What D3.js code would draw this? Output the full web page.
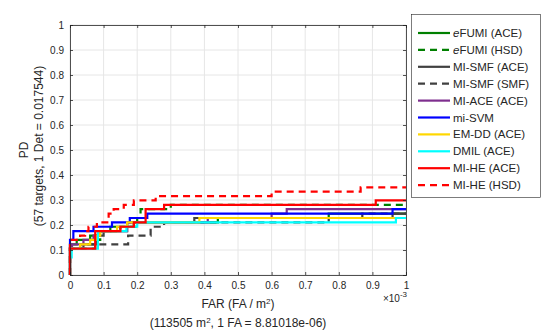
<!DOCTYPE html>
<html><head><meta charset="utf-8">
<script src="https://cdn.jsdelivr.net/npm/d3@7"></script>
<style>body{margin:0;background:#fff}text{font-family:"Liberation Sans",Arial,sans-serif;fill:#262626}</style>
</head><body><svg id="c" width="545" height="332"></svg>
<script>
// FAR in units of 1e-3 FA/m^2, PD as fraction
const seriesNames = ["eFUMI (ACE)","eFUMI (HSD)","MI-SMF (ACE)","MI-SMF (SMF)","MI-ACE (ACE)","mi-SVM","EM-DD (ACE)","DMIL (ACE)","MI-HE (ACE)","MI-HE (HSD)"];
const eFUMI_ACE_far = [0,0.02,0.06,0.085,0.12,0.19,0.44,0.77];
const eFUMI_ACE_pd  = [0.1228,0.1404,0.1579,0.1754,0.1930,0.2105,0.2281,0.2456];
const eFUMI_HSD_far = [0,0.075,0.09,0.15,0.2,0.21,0.3];
const eFUMI_HSD_pd  = [0.1053,0.1404,0.1754,0.1930,0.2281,0.2632,0.2807];
const MISMF_ACE_far = [0,0.04,0.08,0.1,0.17,0.37,0.96];
const MISMF_ACE_pd  = [0.1053,0.1228,0.1579,0.1754,0.2105,0.2281,0.2456];
const MISMF_SMF_far = [0,0.03,0.173,0.24,0.28,0.77,0.87];
const MISMF_SMF_pd  = [0.1053,0.1228,0.1579,0.1930,0.2105,0.2281,0.2456];
const MIACE_far = [0,0.006,0.04,0.07,0.085,0.17,0.41,0.6,0.645];
const MIACE_pd  = [0.1053,0.1228,0.1404,0.1579,0.1754,0.2105,0.2281,0.2456,0.2632];
const miSVM_far = [0,0.01,0.07,0.125,0.178,0.23,0.96];
const miSVM_pd  = [0.1404,0.1754,0.1930,0.2105,0.2281,0.2456,0.2632];
const EMDD_far = [0,0.03,0.06,0.08,0.09,0.14,0.17,0.385];
const EMDD_pd  = [0.1053,0.1228,0.1404,0.1579,0.1754,0.1930,0.2105,0.2281];
const DMIL_far = [0,0.005,0.083,0.168,0.2,0.97];
const DMIL_pd  = [0.0702,0.1053,0.1754,0.1930,0.2105,0.2281];
const MIHE_ACE_far = [0,0.075,0.15,0.19,0.225,0.28,0.91];
const MIHE_ACE_pd  = [0.1053,0.1754,0.1930,0.2105,0.2632,0.2807,0.2982];
const MIHE_HSD_far = [0,0.03,0.045,0.055,0.08,0.115,0.13,0.16,0.19,0.255,0.6,0.865];
const MIHE_HSD_pd  = [0.1404,0.1579,0.1754,0.1930,0.2105,0.2456,0.2632,0.2807,0.2982,0.3158,0.3333,0.3509];
const xTicks = [0,0.1,0.2,0.3,0.4,0.5,0.6,0.7,0.8,0.9,1];
const yTicks = [0,0.1,0.2,0.3,0.4,0.5,0.6,0.7,0.8,0.9,1];

const series = [
 {name:seriesNames[0],far:eFUMI_ACE_far,pd:eFUMI_ACE_pd,color:"#008000",dash:null},
 {name:seriesNames[1],far:eFUMI_HSD_far,pd:eFUMI_HSD_pd,color:"#008000",dash:"7,5"},
 {name:seriesNames[2],far:MISMF_ACE_far,pd:MISMF_ACE_pd,color:"#404040",dash:null},
 {name:seriesNames[3],far:MISMF_SMF_far,pd:MISMF_SMF_pd,color:"#404040",dash:"7,5"},
 {name:seriesNames[4],far:MIACE_far,pd:MIACE_pd,color:"#7E2F8E",dash:null},
 {name:seriesNames[5],far:miSVM_far,pd:miSVM_pd,color:"#0000FF",dash:null},
 {name:seriesNames[6],far:EMDD_far,pd:EMDD_pd,color:"#FFD700",dash:null},
 {name:seriesNames[7],far:DMIL_far,pd:DMIL_pd,color:"#00FFFF",dash:null},
 {name:seriesNames[8],far:MIHE_ACE_far,pd:MIHE_ACE_pd,color:"#FF0000",dash:null},
 {name:seriesNames[9],far:MIHE_HSD_far,pd:MIHE_HSD_pd,color:"#FF0000",dash:"7,5"}
];

const svg = d3.select("#c");
const L=70,R=406,T=25,B=275;
const x = d3.scaleLinear().domain([0,1]).range([L,R]);
const y = d3.scaleLinear().domain([0,1]).range([B,T]);

// grid
const g = svg.append("g");
g.selectAll(".gx").data(xTicks).enter().append("line")
 .attr("x1",d=>x(d)).attr("x2",d=>x(d)).attr("y1",T).attr("y2",B)
 .attr("stroke","#e6e6e6").attr("stroke-width",1);
g.selectAll(".gy").data(yTicks).enter().append("line")
 .attr("y1",d=>y(d)).attr("y2",d=>y(d)).attr("x1",L).attr("x2",R)
 .attr("stroke","#e6e6e6").attr("stroke-width",1);

// lines
function stepPts(s){
  const pts=[[0,0]]; let prev=0;
  s.far.forEach((f,i)=>{ pts.push([f,prev]); pts.push([f,s.pd[i]]); prev=s.pd[i]; });
  pts.push([1,prev]);
  return pts;
}
const line = d3.line().x(d=>x(d[0])).y(d=>y(d[1]));
series.forEach(s=>{
  svg.append("path").attr("d",line(stepPts(s))).attr("fill","none")
   .attr("stroke",s.color).attr("stroke-width",2.2)
   .attr("stroke-dasharray",s.dash);
});

// axes
const xa = svg.append("g").attr("transform",`translate(0,${B})`)
 .call(d3.axisBottom(x).tickValues(xTicks).tickSize(-3).tickPadding(7).tickFormat(d3.format("~g")));
const xt = svg.append("g").attr("transform",`translate(0,${T})`)
 .call(d3.axisTop(x).tickValues(xTicks).tickSize(-3).tickFormat(""));
const ya = svg.append("g").attr("transform",`translate(${L},0)`)
 .call(d3.axisLeft(y).tickValues(yTicks).tickSize(-3).tickPadding(6).tickFormat(d3.format("~g")));
const yr = svg.append("g").attr("transform",`translate(${R},0)`)
 .call(d3.axisRight(y).tickValues(yTicks).tickSize(-3).tickFormat(""));
[xa,xt,ya,yr].forEach(a=>{
  a.selectAll("path").attr("stroke","#262626").attr("stroke-width",0.8);
  a.selectAll("line").attr("stroke","#262626").attr("stroke-width",0.8);
  a.selectAll("text").style("font-size","10px").attr("fill","#262626");
});

// exponent
const ex = svg.append("text").attr("x",407).attr("y",302).attr("text-anchor","end").style("font-size","10px");
ex.append("tspan").text("\u00d710");
ex.append("tspan").attr("dy",-5).style("font-size","8px").text("-3");

// x labels
const xl = svg.append("text").attr("x",238).attr("y",308).attr("text-anchor","middle").style("font-size","12px");
xl.append("tspan").text("FAR (FA / m");
xl.append("tspan").attr("dy",-4).style("font-size","8px").text("2");
xl.append("tspan").attr("dy",4).text(")");
const xl2 = svg.append("text").attr("x",238).attr("y",327).attr("text-anchor","middle").style("font-size","12px");
xl2.append("tspan").text("(113505 m");
xl2.append("tspan").attr("dy",-4).style("font-size","8px").text("2");
xl2.append("tspan").attr("dy",4).text(", 1 FA = 8.81018e-06)");

// y labels
svg.append("text").attr("transform","translate(28,150) rotate(-90)").attr("text-anchor","middle")
 .style("font-size","12px").text("PD");
svg.append("text").attr("transform","translate(43,146) rotate(-90)").attr("text-anchor","middle")
 .style("font-size","12px").text("(57 targets, 1 Det = 0.017544)");

// legend
const lg = svg.append("g");
lg.append("rect").attr("x",411.5).attr("y",14.5).attr("width",129).attr("height",183)
 .attr("fill","#fff").attr("stroke","#262626").attr("stroke-width",0.6);
series.forEach((s,i)=>{
  const yy = 33 + i*16.9;
  lg.append("line").attr("x1",418).attr("x2",450).attr("y1",yy).attr("y2",yy)
   .attr("stroke",s.color).attr("stroke-width",2.2).attr("stroke-dasharray",s.dash);
  const t = lg.append("text").attr("x",453).attr("y",yy+4).style("font-size","11.5px");
  if(s.name.startsWith("eFUMI")){
    t.append("tspan").style("font-style","italic").text("e");
    t.append("tspan").text(s.name.slice(1));
  } else t.text(s.name);
});
</script></body></html>
